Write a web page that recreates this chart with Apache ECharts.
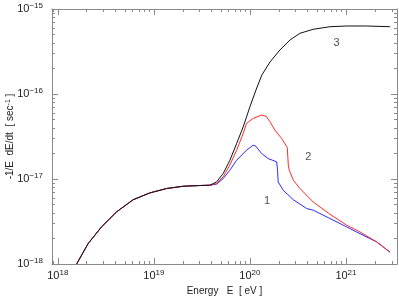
<!DOCTYPE html>
<html><head><meta charset="utf-8">
<script src="https://cdn.jsdelivr.net/npm/echarts@6/dist/echarts.min.js"></script>
<style>html,body{margin:0;padding:0;background:#fff}#c{width:399px;height:297px}</style>
</head><body><div id="c"></div>
<script>
// Shared low-energy part (all three curves coincide)
const commonEnergy = [1.57e18, 2.07e18, 2.85e18, 4.09e18, 6.08e18, 9.08e18, 1.36e19, 2.02e19, 3.01e19, 3.83e19];
const commonLoss   = [1.0e-18, 1.74e-18, 2.73e-18, 4.10e-18, 5.70e-18, 6.86e-18, 7.73e-18, 8.22e-18, 8.38e-18, 8.45e-18];

// Curve 1 (blue)
const energy1 = [4.50e19, 5.27e19, 6.19e19, 7.27e19, 9.22e19, 1.08e20, 1.155e20, 1.32e20, 1.55e20, 1.90e20, 1.94e20, 1.97e20, 2.22e20, 2.83e20, 3.90e20, 4.56e20, 6.81e20, 1.02e21, 1.29e21, 2.09e21, 2.87e21];
const loss1   = [8.69e-18, 1.01e-17, 1.27e-17, 1.66e-17, 2.18e-17, 2.50e-17, 2.43e-17, 2.00e-17, 1.74e-17, 1.59e-17, 1.27e-17, 9.25e-18, 7.38e-18, 5.70e-18, 4.49e-18, 4.30e-18, 3.43e-18, 2.73e-18, 2.38e-18, 1.82e-18, 1.38e-18];

// Curve 2 (red)
const energy2 = [4.50e19, 5.27e19, 6.19e19, 7.27e19, 8.51e19, 9.22e19, 1.08e20, 1.32e20, 1.47e20, 1.62e20, 1.82e20, 2.14e20, 2.45e20, 2.51e20, 2.57e20, 2.83e20, 3.32e20, 4.56e20, 6.81e20, 1.02e21, 1.40e21, 2.09e21, 2.87e21];
const loss2   = [8.85e-18, 1.06e-17, 1.46e-17, 2.18e-17, 3.43e-17, 4.51e-17, 5.16e-17, 5.64e-17, 5.49e-17, 4.71e-17, 3.76e-17, 3.00e-17, 2.35e-17, 1.46e-17, 1.27e-17, 9.68e-18, 7.73e-18, 5.37e-18, 3.85e-18, 2.86e-18, 2.38e-18, 1.82e-18, 1.38e-18];

// Curve 3 (black)
const energy3 = [4.50e19, 5.27e19, 6.19e19, 7.27e19, 8.51e19, 1.0e20, 1.155e20, 1.33e20, 1.62e20, 2.05e20, 2.61e20, 3.32e20, 4.56e20, 6.81e20, 1.02e21, 1.64e21, 2.87e21];
const loss3   = [9.25e-18, 1.16e-17, 1.66e-17, 2.61e-17, 4.10e-17, 7.06e-17, 1.11e-16, 1.67e-16, 2.38e-16, 3.29e-16, 4.31e-16, 5.18e-16, 5.77e-16, 6.19e-16, 6.31e-16, 6.31e-16, 6.19e-16];

// Curve labels
const curveLabels = ['1', '2', '3'];
const labelEnergy = [1.51e20, 4.05e20, 8.0e20];
const labelLoss   = [5.48e-18, 1.82e-17, 4.0e-16];

// Axis ticks
const xMajor = [1e18, 1e19, 1e20, 1e21];
const yMajor = [1e-18, 1e-17, 1e-16, 1e-15];
const minorMult = [2, 3, 4, 5, 6, 7, 8, 9];
const xMin = 8.7e17, xMax = 3.4e21, yMin = 1e-18, yMax = 1e-15;

const xMinor = [], yMinor = [];
[1e17].concat(xMajor).forEach(d => minorMult.forEach(m => { const v = d * m; if (v > xMin && v < xMax) xMinor.push(v); }));
yMajor.forEach(d => minorMult.forEach(m => { const v = d * m; if (v > yMin && v < yMax) yMinor.push(v); }));

const frameColor = '#8a8a8a';
const textColor = '#222';
const font = 'Liberation Sans';

const rich = {
  b: { fontSize: 11, lineHeight: 14, fontFamily: font, color: textColor },
  s: { fontSize: 8, lineHeight: 8, verticalAlign: 'top', fontFamily: font, color: textColor }
};
function powLabel(v) {
  const e = Math.round(Math.log10(v));
  return '{b|10}{s|' + (e < 0 ? '\u2212' + (-e) : e) + '}';
}

function mkX(pos, ticks, len, withLabel, withLine) {
  const a = {
    type: 'log', logBase: 10, min: xMin, max: xMax, position: pos,
    axisLine: { show: withLine, onZero: false, lineStyle: { color: frameColor, width: 1 } },
    axisTick: { show: true, inside: true, length: len, customValues: ticks, lineStyle: { color: frameColor } },
    axisLabel: withLabel ? { show: true, customValues: ticks, formatter: powLabel, rich: rich, margin: 5, align: 'center' } : { show: false },
    splitLine: { show: false }
  };
  if (withLabel) {
    a.name = 'Energy   E  [ eV ]';
    a.nameLocation = 'middle';
    a.nameGap = 22;
    a.nameMoveOverlap = false;
    a.nameTextStyle = { fontSize: 10, fontFamily: font, color: textColor };
  }
  return a;
}
function mkY(pos, ticks, len, withLabel, withLine) {
  const a = {
    type: 'log', logBase: 10, min: yMin, max: yMax, position: pos,
    axisLine: { show: withLine, onZero: false, lineStyle: { color: frameColor, width: 1 } },
    axisTick: { show: true, inside: true, length: len, customValues: ticks, lineStyle: { color: frameColor } },
    axisLabel: withLabel ? { show: true, customValues: ticks, formatter: powLabel, rich: rich, margin: 9 } : { show: false },
    splitLine: { show: false }
  };
  if (withLabel) {
    a.name = '-1/E  dE/dt  [ sec{s|-1} ]';
    a.nameLocation = 'middle';
    a.nameGap = 37;
    a.nameMoveOverlap = false;
    a.nameTextStyle = { fontSize: 10, fontFamily: font, color: textColor,
      rich: { s: { fontSize: 7, lineHeight: 7, verticalAlign: 'top', fontFamily: font, color: textColor } } };
  }
  return a;
}

function pairs(e, l) { return e.map((x, i) => [x, l[i]]); }

const chart = echarts.init(document.getElementById('c'), null, { renderer: 'canvas' });
chart.setOption({
  animation: false,
  backgroundColor: '#fff',
  grid: { left: 52, right: 2, top: 9, bottom: 33, containLabel: false, outerBoundsMode: 'none' },
  xAxis: [
    mkX('bottom', xMajor, 6, true, true),
    mkX('bottom', xMinor, 3, false, false),
    mkX('top', xMajor, 6, false, true),
    mkX('top', xMinor, 3, false, false)
  ],
  yAxis: [
    mkY('left', yMajor, 6, true, true),
    mkY('left', yMinor, 3, false, false),
    mkY('right', yMajor, 6, false, true),
    mkY('right', yMinor, 3, false, false)
  ],
  series: [
    { type: 'line', name: '1', showSymbol: false, data: pairs(commonEnergy.concat(energy1), commonLoss.concat(loss1)),
      lineStyle: { color: '#2a2aff', width: 1 }, itemStyle: { color: '#2a2aff' } },
    { type: 'line', name: '2', showSymbol: false, data: pairs(commonEnergy.concat(energy2), commonLoss.concat(loss2)),
      lineStyle: { color: '#ff2a2a', width: 1 }, itemStyle: { color: '#ff2a2a' } },
    { type: 'line', name: '3', showSymbol: false, data: pairs(commonEnergy.concat(energy3), commonLoss.concat(loss3)),
      lineStyle: { color: '#111', width: 1 }, itemStyle: { color: '#111' } },
    { type: 'scatter', symbolSize: 0, silent: true,
      data: curveLabels.map((t, i) => ({ name: t, value: [labelEnergy[i], labelLoss[i]] })),
      label: { show: true, position: 'inside', formatter: '{b}', fontSize: 11, fontFamily: font, color: textColor } }
  ]
});
</script>
</body></html>
